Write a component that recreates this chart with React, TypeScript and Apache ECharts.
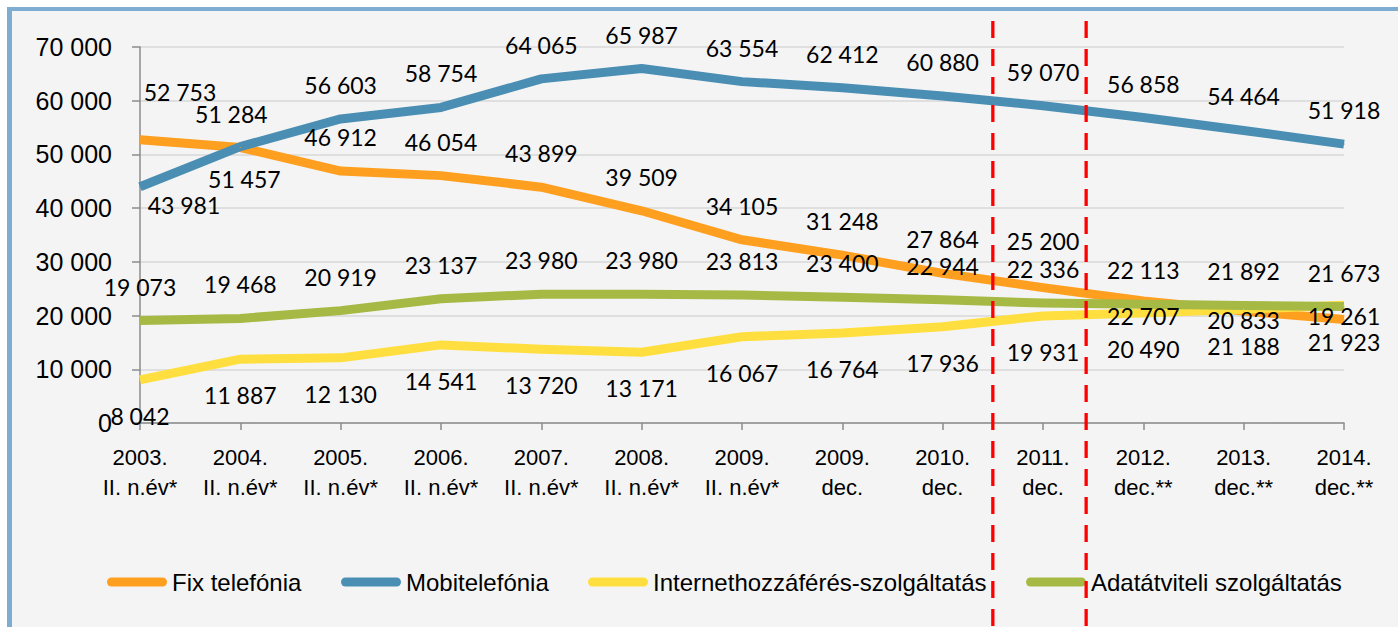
import React, { useEffect, useRef } from "react";
import * as echarts from "echarts";

const categories = [
  "2003.\nII. n.év*",
  "2004.\nII. n.év*",
  "2005.\nII. n.év*",
  "2006.\nII. n.év*",
  "2007.\nII. n.év*",
  "2008.\nII. n.év*",
  "2009.\nII. n.év*",
  "2009.\ndec.",
  "2010.\ndec.",
  "2011.\ndec.",
  "2012.\ndec.**",
  "2013.\ndec.**",
  "2014.\ndec.**",
];

const seriesNames = [
  "Fix telefónia",
  "Mobitelefónia",
  "Internethozzáférés-szolgáltatás",
  "Adatátviteli szolgáltatás",
];

const fixValues = [52753, 51284, 46912, 46054, 43899, 39509, 34105, 31248, 27864, 25200, 22707, 20833, 19261];
const mobileValues = [43981, 51457, 56603, 58754, 64065, 65987, 63554, 62412, 60880, 59070, 56858, 54464, 51918];
const internetValues = [8042, 11887, 12130, 14541, 13720, 13171, 16067, 16764, 17936, 19931, 20490, 21188, 21923];
const dataValues = [19073, 19468, 20919, 23137, 23980, 23980, 23813, 23400, 22944, 22336, 22113, 21892, 21673];

const yTicks = { min: 0, max: 70000, interval: 10000 };

// divider positions expressed in category-index units
const dividerPositions = [8.5, 9.43];

// ---- styling / placement (kept apart from the data) ----
const colors = ["#FF9F1F", "#4A8EB4", "#FFDF3F", "#A6B944"];
const defaultLabelOffsets: number[][] = [
  [0, -34],
  [0, -34],
  [0, 36],
  [0, -34],
];
const labelOffsetOverrides: Record<number, number[]>[] = [
  { 0: [40, -48], 1: [-9, -34], 9: [0, -47], 10: [0, 15], 11: [0, 9], 12: [0, -4] },
  { 0: [44, 18], 1: [4, 32] },
  { 11: [0, 37], 12: [0, 37] },
  {},
];
const legendLefts = [107, 341, 588, 1026];

const narrowFont = "'Liberation Sans Narrow', 'Arial Narrow', 'Liberation Sans', Arial, sans-serif";
const labelFont = "Lato, 'Open Sans', sans-serif";

const fmt = (v: number) => String(v).replace(/\B(?=(\d{3})+(?!\d))/g, " ");

const capsule = "path://M4.5,0 H55.5 A4.5,4.5 0 0 1 55.5,9 H4.5 A4.5,4.5 0 0 1 4.5,0 Z";

export default function App() {
  const ref = useRef<HTMLDivElement>(null);

  useEffect(() => {
    if (!ref.current) return;
    const chart = echarts.init(ref.current, null, { renderer: "svg" });
    const allValues = [fixValues, mobileValues, internetValues, dataValues];

    const series = allValues.map((vals, si) => ({
      name: seriesNames[si],
      type: "line",
      data: vals.map((v, i) => ({
        value: v,
        label: { offset: labelOffsetOverrides[si][i] || defaultLabelOffsets[si] },
      })),
      symbol: "circle",
      symbolSize: 1,
      showSymbol: true,
      silent: true,
      itemStyle: { color: colors[si] },
      lineStyle: { color: colors[si], width: 9, cap: "butt", join: "round" },
      label: {
        show: true,
        position: "inside",
        fontFamily: labelFont,
        fontSize: 23,
        lineHeight: 22,
        color: "#000",
        formatter: (p: any) => fmt(p.value),
      },
      emphasis: { disabled: true },
    }));

    const option: any = {
      animation: false,
      backgroundColor: "transparent",
      grid: { left: 140, right: 54, top: 47, bottom: 204, containLabel: false },
      xAxis: {
        type: "category",
        data: categories,
        boundaryGap: false,
        axisLine: { lineStyle: { color: "#8C8C8C", width: 1.5 } },
        axisTick: { show: true, length: 7, alignWithLabel: true, lineStyle: { color: "#8C8C8C", width: 1.5 } },
        axisLabel: {
          interval: 0,
          margin: 19,
          color: "#000",
          fontFamily: narrowFont,
          fontSize: 22,
          lineHeight: 30,
        },
        splitLine: { show: false },
      },
      yAxis: {
        type: "value",
        min: yTicks.min,
        max: yTicks.max,
        interval: yTicks.interval,
        axisLine: { show: true, lineStyle: { color: "#8C8C8C", width: 1.5 } },
        axisTick: { show: true, length: 8, lineStyle: { color: "#8C8C8C", width: 1.5 } },
        axisLabel: {
          margin: 28,
          color: "#000",
          fontFamily: narrowFont,
          fontSize: 25,
          formatter: (v: number) => fmt(v),
        },
        splitLine: { show: true, lineStyle: { color: "#D9D9D9", width: 1.5 } },
      },
      legend: seriesNames.map((name, i) => ({
        data: [name],
        left: legendLefts[i],
        top: 570,
        padding: 0,
        itemWidth: 60,
        itemHeight: 9,
        icon: capsule,
        selectedMode: false,
        textStyle: { color: "#000", fontFamily: narrowFont, fontSize: 24 },
      })),
      series,
    };

    chart.setOption(option);

    const px = (idx: number) => chart.convertToPixel({ xAxisIndex: 0 }, idx) as unknown as number;
    const graphics = dividerPositions.map((pos) => {
      const lo = Math.floor(pos);
      const frac = pos - lo;
      const x = px(lo) + frac * (px(lo + 1) - px(lo));
      return {
        type: "line",
        z: 100,
        silent: true,
        shape: { x1: x, y1: 21, x2: x, y2: 627 },
        style: { stroke: "#FF0000", lineWidth: 3.3, lineDash: [17, 11] },
      };
    });
    chart.setOption({ graphic: graphics });

    return () => chart.dispose();
  }, []);

  return (
    <>
      <div
        style={{
          position: "fixed",
          left: 7,
          top: 7,
          width: 1391,
          height: 620,
          boxSizing: "border-box",
          borderLeft: "5px solid #7DADD0",
          borderTop: "4px solid #7DADD0",
          background: "#F4F4F4",
        }}
      />
      <div ref={ref} style={{ position: "fixed", left: 0, top: 0, width: 1398, height: 627 }} />
    </>
  );
}
